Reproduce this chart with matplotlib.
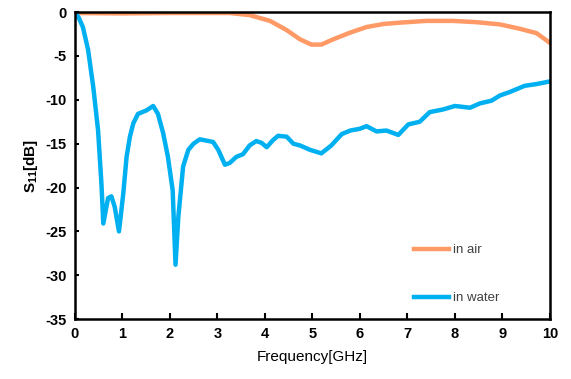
import matplotlib
matplotlib.use("Agg")
import matplotlib.pyplot as plt

plt.rcParams['font.family'] = ['Liberation Sans', 'DejaVu Sans']
plt.rcParams['mathtext.default'] = 'regular'

water_x = [0, 0.08, 0.17, 0.28, 0.39, 0.49, 0.56, 0.60, 0.70, 0.77, 0.84, 0.93, 1.02, 1.09, 1.16, 1.23,
           1.33, 1.51, 1.65, 1.75, 1.86, 1.96, 2.06, 2.12, 2.18, 2.28, 2.39, 2.50, 2.63, 2.91, 3.02,
           3.16, 3.26, 3.40, 3.54, 3.68, 3.82, 3.93, 4.04, 4.17, 4.28, 4.46,
           4.60, 4.74, 4.95, 5.19, 5.40, 5.62, 5.80, 6.00, 6.14, 6.35, 6.56, 6.81, 7.02, 7.26, 7.47,
           7.75, 8.00, 8.32, 8.53, 8.77, 8.95, 9.16, 9.47, 9.72, 10.0]
water_y = [0, -0.6, -1.7, -4.3, -8.6, -13.5, -19.5, -24.1, -21.2, -21.0, -22.2, -25.0, -20.7, -16.5, -14.2, -12.7,
           -11.6, -11.2, -10.7, -11.6, -13.8, -16.5, -20.3, -28.8, -23.3, -17.6, -15.7, -15.0, -14.5, -14.8, -15.7,
           -17.4, -17.2, -16.5, -16.2, -15.2, -14.7, -14.9, -15.4, -14.6, -14.1, -14.2,
           -15.0, -15.2, -15.7, -16.1, -15.2, -13.9, -13.5, -13.3, -13.0, -13.6, -13.5, -14.0, -12.8, -12.5, -11.4,
           -11.1, -10.7, -10.9, -10.4, -10.1, -9.5, -9.1, -8.4, -8.2, -7.9]

air_x = [0, 1.0, 2.0, 3.0, 3.26, 3.68, 4.11, 4.46, 4.74, 4.98, 5.19, 5.44, 5.79, 6.14, 6.50, 6.84, 7.40,
         7.96, 8.46, 8.95, 9.37, 9.72, 10.0]
air_y = [-0.1, -0.15, -0.1, -0.1, -0.1, -0.34, -1.0, -2.05, -3.1, -3.7, -3.7, -3.1, -2.35, -1.7, -1.35, -1.2, -1.0,
         -1.0, -1.15, -1.4, -1.9, -2.4, -3.5]

x_ticks = list(range(0, 11))
y_ticks = [0, -5, -10, -15, -20, -25, -30, -35]

fig = plt.figure(figsize=(5.71, 3.79), dpi=100)
ax = fig.add_axes([0.131, 0.158, 0.832, 0.810])

ax.plot(air_x, air_y, color='#FF9966', lw=3.2, label='in air', solid_joinstyle='round')
ax.plot(water_x, water_y, color='#00B0F0', lw=3.2, label='in water', solid_joinstyle='round')

ax.set_xlim(0, 10)
ax.set_ylim(-35, 0)
ax.set_xticks(x_ticks)
ax.set_yticks(y_ticks)
ax.set_xticklabels([str(v) for v in x_ticks], fontsize=10.5, fontweight='bold')
ax.set_yticklabels([str(v) for v in y_ticks], fontsize=10.5, fontweight='bold')
ax.tick_params(axis='x', direction='in', length=4, width=1.5, pad=6)
ax.tick_params(axis='y', direction='in', length=3, width=1.5, pad=6)
for s in ax.spines.values():
    s.set_linewidth(1.8)

ax.set_xlabel('Frequency[GHz]', fontsize=11, labelpad=6)
ax.set_ylabel('S$_{11}$[dB]', fontsize=11, fontweight='bold', labelpad=4)

leg = ax.legend(loc='lower left', bbox_to_anchor=(0.69, 0.01), frameon=False, fontsize=9.5,
                handlelength=2.6, handletextpad=0.3, labelspacing=2.7)
for t in leg.get_texts():
    t.set_color('#404040')

fig.savefig('out.png', dpi=100)
